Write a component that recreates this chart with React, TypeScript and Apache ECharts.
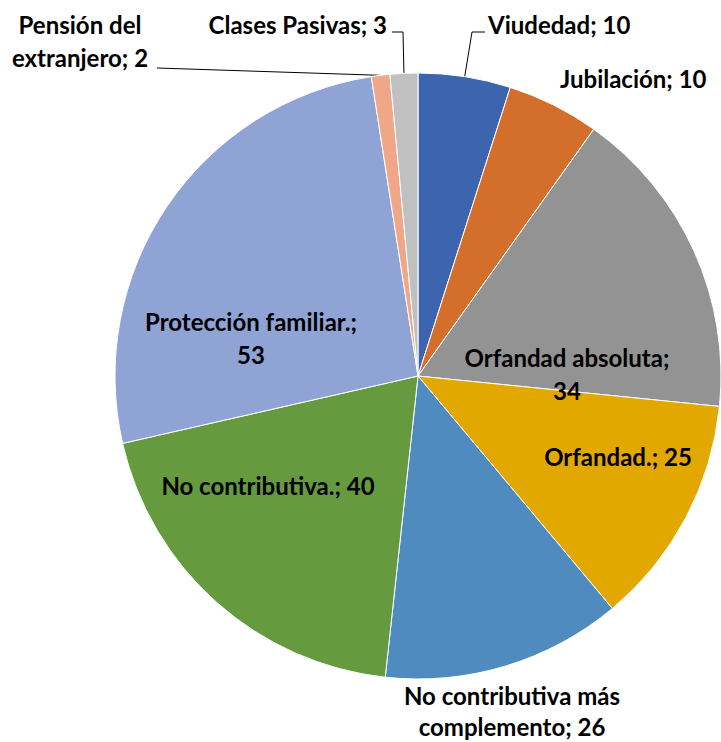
import React, { useEffect, useRef } from "react";
import * as echarts from "echarts";

const categories = [
  "Viudedad",
  "Jubilación",
  "Orfandad absoluta",
  "Orfandad.",
  "No contributiva más complemento",
  "No contributiva.",
  "Protección familiar.",
  "Pensión del extranjero",
  "Clases Pasivas",
];
const values = [10, 10, 34, 25, 26, 40, 53, 2, 3];
const colors = [
  "#3D64AE",
  "#D46E2B",
  "#939393",
  "#E2A800",
  "#508BC0",
  "#659A3F",
  "#8FA4D4",
  "#F0A787",
  "#C0C0C0",
];
// number of words on the first line of each label (0 = single line)
const labelBreak = [0, 0, 2, 0, 3, 0, 2, 2, 0];
// whether the label has a leader line
const hasLine = [true, false, false, false, false, false, false, true, true];

// label anchors (layout, not data)
const labelPos: { x: number; y: number; align: string; lh: number }[] = [
  { x: 488, y: 24, align: "left", lh: 33 },
  { x: 560, y: 78, align: "left", lh: 33 },
  { x: 567, y: 374, align: "center", lh: 33 },
  { x: 618, y: 456, align: "center", lh: 33 },
  { x: 512, y: 711, align: "center", lh: 31 },
  { x: 268, y: 485, align: "center", lh: 33 },
  { x: 251, y: 338, align: "center", lh: 33 },
  { x: 80, y: 41, align: "center", lh: 33 },
  { x: 387, y: 24, align: "right", lh: 33 },
];
// leader line bends (layout)
const lineBends: number[][][] = [
  [[472, 32], [485, 32]],
  [],
  [],
  [],
  [],
  [],
  [],
  [[157, 68]],
  [[403, 32], [392, 32]],
];

const CX = 418;
const CY = 376;
const R = 303;

function labelText(i: number) {
  const words = `${categories[i]}; ${values[i]}`.split(" ");
  const n = labelBreak[i];
  if (!n) return words.join(" ");
  return words.slice(0, n).join(" ") + "\n" + words.slice(n).join(" ");
}

function edgePoint(i: number): number[] {
  const total = values.reduce((a, b) => a + b, 0);
  let before = 0;
  for (let k = 0; k < i; k++) before += values[k];
  const mid = ((before + values[i] / 2) / total) * Math.PI * 2;
  return [CX + R * Math.sin(mid), CY - R * Math.cos(mid)];
}

export default function App() {
  const ref = useRef<HTMLDivElement>(null);
  useEffect(() => {
    document.body.style.margin = "0";
    const chart = echarts.init(ref.current!, undefined, { renderer: "svg" });
    chart.setOption({
      animation: false,
      backgroundColor: "#ffffff",
      series: [
        {
          type: "pie",
          center: [CX, CY],
          radius: [0, R],
          startAngle: 90,
          clockwise: true,
          avoidLabelOverlap: false,
          itemStyle: { borderColor: "#ffffff", borderWidth: 1 },
          label: {
            show: true,
            position: "outside",
            color: "#000000",
            fontFamily: "Lato",
            fontWeight: "bold",
            fontSize: 24,
            lineHeight: 33,
            formatter: (p: any) => labelText(p.dataIndex),
          },
          labelLine: {
            show: true,
            lineStyle: { color: "#000000", width: 1 },
          },
          labelLayout: (p: any) => {
            const i = p.dataIndex;
            const pos = labelPos[i];
            const out: any = {
              x: pos.x,
              y: pos.y,
              align: pos.align,
              verticalAlign: "middle",
            };
            if (hasLine[i]) {
              out.labelLinePoints = [edgePoint(i), ...lineBends[i]];
            }
            return out;
          },
          data: categories.map((name, i) => ({
            name,
            value: values[i],
            itemStyle: { color: colors[i] },
            label: { lineHeight: labelPos[i].lh },
            labelLine: { show: hasLine[i] },
          })),
        },
      ],
    });
    return () => chart.dispose();
  }, []);
  return <div ref={ref} style={{ width: 721, height: 742 }} />;
}
